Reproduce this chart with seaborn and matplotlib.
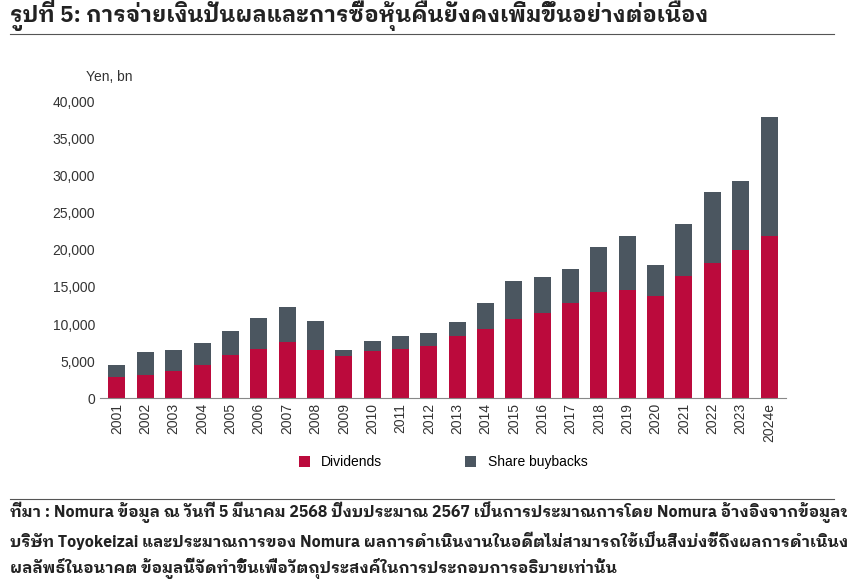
import matplotlib
matplotlib.use("Agg")
import matplotlib.pyplot as plt
import seaborn as sns
import pandas as pd
import numpy as np
from matplotlib import font_manager as fm
from matplotlib.ft2font import FT2Font

years = ["2001","2002","2003","2004","2005","2006","2007","2008","2009","2010","2011","2012",
         "2013","2014","2015","2016","2017","2018","2019","2020","2021","2022","2023","2024e"]
dividends = [2.8,3.1,3.6,4.5,5.8,6.6,7.6,6.5,5.7,6.4,6.6,7.0,8.4,9.3,10.7,11.5,12.8,14.3,14.6,13.8,16.5,18.2,20.0,21.9]
totals = [4.5,6.2,6.5,7.4,9.0,10.8,12.3,10.4,6.5,7.7,8.4,8.8,10.3,12.8,15.8,16.4,17.4,20.4,21.9,18.0,23.5,27.8,29.3,38.0]
dividends = [v*1000 for v in dividends]
totals = [v*1000 for v in totals]
buybacks = [t-d for t, d in zip(totals, dividends)]
yticks = [0,5000,10000,15000,20000,25000,30000,35000,40000]

title = "รูปที่ 5: การจ่ายเงินปันผลและการซื้อหุ้นคืนยังคงเพิ่มขึ้นอย่างต่อเนื่อง"
footer = ("ที่มา : Nomura ข้อมูล ณ วันที่ 5 มีนาคม 2568 ปีงบประมาณ 2567 เป็นการประมาณการโดย Nomura อ้างอิงจากข้อมูลของ\n"
          "บริษัท Toyokeizai และประมาณการของ Nomura ผลการดำเนินงานในอดีตไม่สามารถใช้เป็นสิ่งบ่งชี้ถึงผลการดำเนินงานหรือ\n"
          "ผลลัพธ์ในอนาคต ข้อมูลนี้จัดทำขึ้นเพื่อวัตถุประสงค์ในการประกอบการอธิบายเท่านั้น")

thai_font = None
for f in fm.fontManager.ttflist:
    try:
        if 0x0E01 in FT2Font(f.fname).get_charmap():
            thai_font = f.name
            if "Noto" in f.name or "Sans" in f.name:
                break
    except Exception:
        pass
fams = ([thai_font] if thai_font else []) + ["DejaVu Sans"]
plt.rcParams["font.family"] = ["Liberation Sans"] + fams

RED = "#bb0a3c"
GRAY = "#4b5660"

df = pd.DataFrame({"year": years, "Dividends": dividends, "Total": totals})
fig = plt.figure(figsize=(8.47, 5.82), dpi=100)
ax = fig.add_axes([0.118, 0.316, 0.81, 0.509])
sns.barplot(data=df, x="year", y="Total", color=GRAY, width=0.6, ax=ax, label="Share buybacks", saturation=1)
sns.barplot(data=df, x="year", y="Dividends", color=RED, width=0.6, ax=ax, label="Dividends", saturation=1)
ax.set_ylim(0, 40000)
ax.set_yticks(yticks)
ax.set_yticklabels([f"{v:,}" for v in yticks], fontsize=10, color="#333333")
ax.tick_params(axis="x", rotation=90, labelsize=10, colors="#333333", length=0)
ax.tick_params(axis="y", length=0)
ax.set_xlabel(""); ax.set_ylabel("")
for s in ["top", "right", "left"]:
    ax.spines[s].set_visible(False)
ax.spines["bottom"].set_color("#888888")
ax.set_xlim(-0.6, len(years)-0.4)
ax.text(-0.02, 1.07, "Yen, bn", transform=ax.transAxes, fontsize=10, color="#333333", ha="left")
h, l = ax.get_legend_handles_labels()
ax.legend([h[1], h[0]], [l[1], l[0]], loc="upper center", bbox_to_anchor=(0.5, -0.15), ncol=2,
          frameon=False, fontsize=10, handlelength=0.8, handleheight=0.8, columnspacing=6)

fig.text(0.012, 0.962, title, fontsize=16, color="#222222", fontfamily=fams, fontweight="bold")
fig.add_artist(plt.Line2D([0.012, 0.985], [0.942, 0.942], color="#555555", lw=0.8))
fig.add_artist(plt.Line2D([0.012, 0.985], [0.142, 0.142], color="#555555", lw=0.8))
fig.text(0.012, 0.005, footer, fontsize=11.5, color="#222222", fontfamily=fams, linespacing=1.5,
         va="bottom", fontweight="bold")
fig.savefig("out.png", dpi=100)
